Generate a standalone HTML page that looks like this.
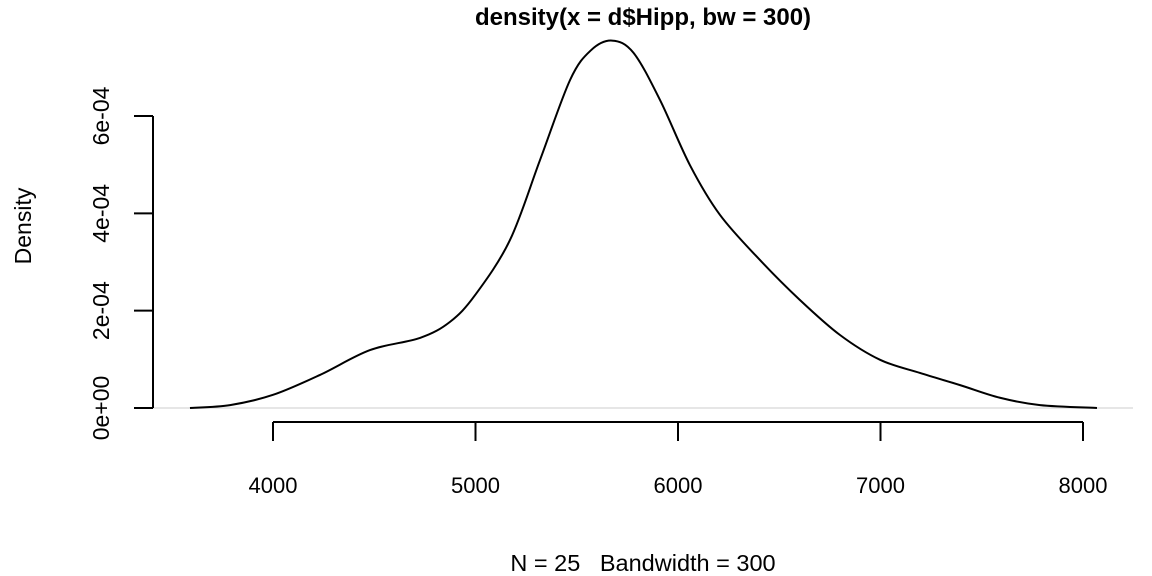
<!DOCTYPE html>
<html><head><meta charset="utf-8"><style>body{margin:0;background:#fff}svg{display:block;font-family:"Liberation Sans",sans-serif}</style></head>
<body>
<svg id="chart" width="1152" height="576" viewBox="0 0 1152 576">
<text x="643" y="25" text-anchor="middle" font-weight="bold" font-size="24">density(x = d$Hipp, bw = 300)</text>
<text x="643" y="571" text-anchor="middle" font-size="23.5" style="white-space:pre">N = 25   Bandwidth = 300</text>
<text transform="translate(31,226) rotate(-90)" text-anchor="middle" font-size="23">Density</text>
<line x1="153" y1="408" x2="1133" y2="408" stroke="#e6e6e6" stroke-width="2"/>
<g id="axes"></g>
<path id="curve" fill="none" stroke="#000" stroke-width="2"/>
</svg>
<script>
const xs = [3590,3788,4000,4232,4479,4726,4874,4998,5170,5319,5467,5570,5674,5780,5911,6059,6207,6405,6602,6800,6998,7195,7393,7590,7788,8069];
const ys = [0,0.06e-4,0.27e-4,0.68e-4,1.19e-4,1.44e-4,1.77e-4,2.32e-4,3.45e-4,5.1e-4,6.74e-4,7.35e-4,7.55e-4,7.3e-4,6.33e-4,4.99e-4,3.97e-4,3.04e-4,2.22e-4,1.5e-4,0.99e-4,0.72e-4,0.47e-4,0.21e-4,0.06e-4,0];
const xTicks = [4000,5000,6000,7000,8000];
const yTicks = [0,2e-4,4e-4,6e-4];
const yTickLabels = ["0e+00","2e-04","4e-04","6e-04"];
const sx = v => 273 + (v-4000)*0.2025;
const sy = v => 408 - v*292/6e-4;
const NS="http://www.w3.org/2000/svg";
const ax=document.getElementById('axes');
function mk(t,a){const e=document.createElementNS(NS,t);for(const k in a)e.setAttribute(k,a[k]);ax.appendChild(e);return e;}
let l=mk('line',{x1:sx(4000),x2:sx(8000),y1:422,y2:422,stroke:'#000','stroke-width':2});


xTicks.forEach(v=>{
 const t=mk('line',{x1:sx(v),x2:sx(v),y1:422,y2:441,stroke:'#000','stroke-width':2});
 
 
 const tx=mk('text',{x:sx(v),y:493,'text-anchor':'middle','font-size':22});tx.textContent=v;
 
 
});
l=mk('line',{x1:153,x2:153,y1:sy(0),y2:sy(6e-4),stroke:'#000','stroke-width':2});


yTicks.forEach((v,i)=>{
 const t=mk('line',{x1:134,x2:153,y1:sy(v),y2:sy(v),stroke:'#000','stroke-width':2});
 
 
 const tx=mk('text',{transform:`translate(109,${sy(v)}) rotate(-90)`,'text-anchor':'middle','font-size':23});tx.textContent=yTickLabels[i];
 
 
});
const P=xs.map((x,i)=>[sx(x),sy(ys[i])]);
let d=`M${P[0][0]},${P[0][1]}`;
for(let i=0;i<P.length-1;i++){
 const p0=P[Math.max(0,i-1)],p1=P[i],p2=P[i+1],p3=P[Math.min(P.length-1,i+2)];
 const c1=[p1[0]+(p2[0]-p0[0])/6,p1[1]+(p2[1]-p0[1])/6],c2=[p2[0]-(p3[0]-p1[0])/6,p2[1]-(p3[1]-p1[1])/6];
 d+=`C${c1[0]},${c1[1]} ${c2[0]},${c2[1]} ${p2[0]},${p2[1]}`;
}
document.getElementById('curve').setAttribute('d',d);
</script>
</body></html>
